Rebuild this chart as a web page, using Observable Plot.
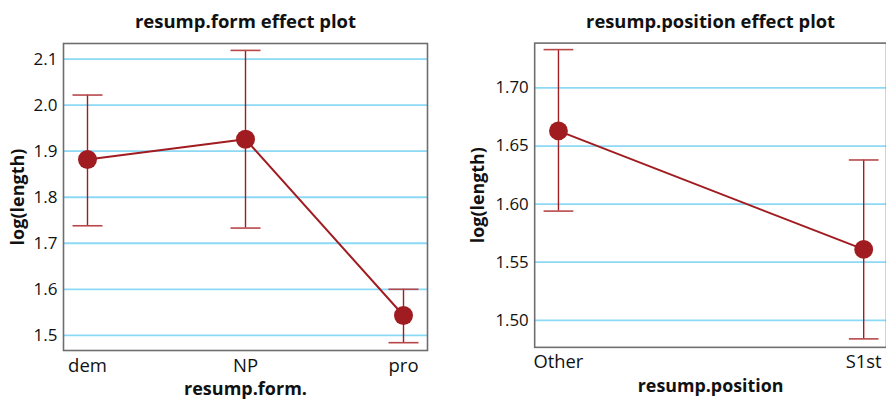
<!DOCTYPE html>
<html>
<head>
<meta charset="utf-8">
<script src="https://cdn.jsdelivr.net/npm/d3@7"></script>
<script src="https://cdn.jsdelivr.net/npm/@observablehq/plot@0.6"></script>
<style>
  html, body { margin: 0; padding: 0; background: #fff; }
  #wrap { position: relative; width: 886px; height: 401px; overflow: hidden; background: #fff; }
  #wrap > div { position: absolute; top: 0; }
  text { font-family: "Open Sans", sans-serif; }
</style>
</head>
<body>
<div id="wrap"><div id="left" style="left:0"></div><div id="right" style="left:443px"></div></div>
<script>
// resump.form effect
const formCats = ["dem", "NP", "pro"];
const formFit = [1.882, 1.926, 1.543];
const formLower = [1.738, 1.733, 1.484];
const formUpper = [2.022, 2.119, 1.600];
const formTicks = [1.5, 1.6, 1.7, 1.8, 1.9, 2.0, 2.1];

// resump.position effect
const posCats = ["Other", "S1st"];
const posFit = [1.663, 1.561];
const posLower = [1.594, 1.484];
const posUpper = [1.733, 1.638];
const posTicks = [1.50, 1.55, 1.60, 1.65, 1.70];

const RED = "#a01c20";
const CAP = "#b8474a";
const GRID = "#8cd9f5";

// horizontal cap symbol: half-width equals the dot radius
const capSymbol = {
  draw(ctx, size) {
    const w = Math.sqrt(size / Math.PI);
    ctx.moveTo(-w, 0);
    ctx.lineTo(w, 0);
  }
};

function effectPlot({cats, fit, lower, upper, ticks, yDomain, xPad, width, marginLeft, marginRight,
                     title, xLabel, yLabelDx, tickFmt}) {
  const rows = cats.map((c, i) => ({cat: c, fit: fit[i], lo: lower[i], hi: upper[i]}));
  return Plot.plot({
    width, height: 401,
    marginTop: 43, marginBottom: 51, marginLeft, marginRight,
    style: {fontFamily: "Open Sans, sans-serif", fontSize: "17px", color: "#111", background: "transparent"},
    x: {type: "point", domain: cats, padding: xPad, axis: null},
    y: {domain: yDomain, axis: null},
    marks: [
      Plot.gridY(ticks, {stroke: GRID, strokeOpacity: 1, strokeWidth: 1.8}),
      Plot.frame({stroke: "#6e6e6e", strokeWidth: 1.6}),
      Plot.axisY(ticks, {tickSize: 0, tickPadding: 6, tickFormat: tickFmt, fontSize: 17, fill: "#111", label: null}),
      Plot.axisX(cats, {tickSize: 0, tickPadding: 8, fontSize: 18.5, fill: "#111", label: null}),
      Plot.ruleX(rows, {x: "cat", y1: "lo", y2: "hi", stroke: RED, strokeWidth: 1.4}),
      Plot.dot(rows, {x: "cat", y: "lo", symbol: capSymbol, r: 15, stroke: CAP, strokeWidth: 1.6}),
      Plot.dot(rows, {x: "cat", y: "hi", symbol: capSymbol, r: 15, stroke: CAP, strokeWidth: 1.6}),
      Plot.line(rows, {x: "cat", y: "fit", stroke: RED, strokeWidth: 2}),
      Plot.dot(rows, {x: "cat", y: "fit", r: 9.5, fill: RED, stroke: "none"}),
      Plot.text([title], {frameAnchor: "top", dy: -21, lineAnchor: "middle", fontWeight: "bold", fontSize: 18.5, fill: "#111"}),
      Plot.text([xLabel], {frameAnchor: "bottom", dy: 39, lineAnchor: "middle", fontWeight: "bold", fontSize: 18, fill: "#111"}),
      Plot.text(["log(length)"], {frameAnchor: "left", dx: yLabelDx, rotate: -90, lineAnchor: "middle", textAnchor: "middle", fontWeight: "bold", fontSize: 18, fill: "#111"})
    ]
  });
}

document.getElementById("left").append(effectPlot({
  cats: formCats, fit: formFit, lower: formLower, upper: formUpper, ticks: formTicks,
  yDomain: [1.467, 2.134], xPad: 0.145, width: 443, marginLeft: 63, marginRight: 16,
  title: "resump.form effect plot", xLabel: "resump.form.", yLabelDx: -45.5, tickFmt: d3.format(".1f")
}));

document.getElementById("right").append(effectPlot({
  cats: posCats, fit: posFit, lower: posLower, upper: posUpper, ticks: posTicks,
  yDomain: [1.4767, 1.7386], xPad: 0.075, width: 447, marginLeft: 92, marginRight: 0,
  title: "resump.position effect plot", xLabel: "resump.position", yLabelDx: -57, tickFmt: d3.format(".2f")
}));
</script>
</body>
</html>
